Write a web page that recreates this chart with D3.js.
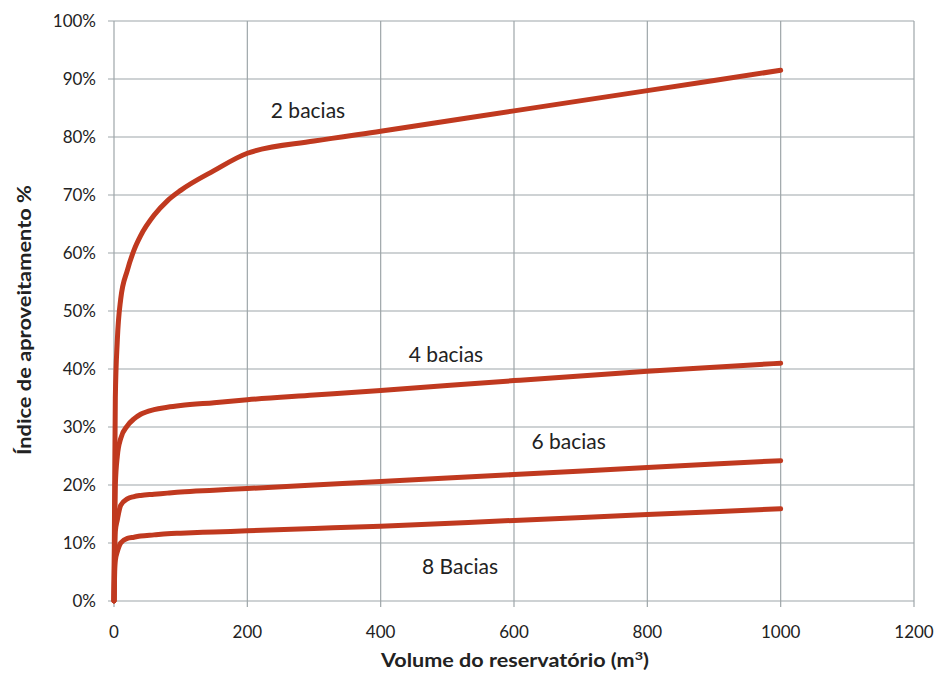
<!DOCTYPE html>
<html><head><meta charset="utf-8">
<script src="https://cdn.jsdelivr.net/npm/d3@7"></script>
<style>body{margin:0;background:#fff;} text{font-family:Lato,"Open Sans",sans-serif;}</style>
</head><body><svg id="c" width="943" height="674"></svg>
<script>
const xTicks = [0,200,400,600,800,1000,1200];
const yTicks = [0,0.1,0.2,0.3,0.4,0.5,0.6,0.7,0.8,0.9,1.0];
const volumes = [0,1,2,5,10,20,30,40,60,80,100,150,200,300,400,600,800,1000];
const bacias2 = [0,0.20,0.35,0.45,0.52,0.57,0.605,0.63,0.665,0.69,0.708,0.742,0.772,0.793,0.81,0.845,0.88,0.915];
const bacias4 = [0,0.12,0.20,0.25,0.28,0.302,0.314,0.322,0.33,0.334,0.337,0.342,0.347,0.355,0.363,0.38,0.396,0.41];
const bacias6 = [0,0.08,0.12,0.14,0.165,0.176,0.18,0.182,0.184,0.186,0.188,0.191,0.194,0.2,0.206,0.218,0.23,0.242];
const bacias8 = [0,0.05,0.07,0.085,0.10,0.108,0.11,0.112,0.114,0.116,0.117,0.119,0.121,0.125,0.129,0.139,0.149,0.159];
const seriesNames = ["2 bacias","4 bacias","6 bacias","8 Bacias"];
const seriesValues = [bacias2,bacias4,bacias6,bacias8];
const labelPos = [[291,0.845],[498,0.425],[682,0.275],[519,0.06]];

const svg = d3.select("#c");
const m = {l:114,t:21,r:914,b:601};
const x = d3.scaleLinear().domain([0,1200]).range([m.l,m.r]);
const y = d3.scaleLinear().domain([0,1]).range([m.b,m.t]);
const grid = "#9ea6a9";

svg.append("g").selectAll("line").data(yTicks).join("line")
  .attr("x1",m.l-6).attr("x2",m.r).attr("y1",d=>y(d)).attr("y2",d=>y(d))
  .attr("stroke",grid).attr("stroke-width",1.2);
svg.append("g").selectAll("line").data(xTicks).join("line")
  .attr("x1",d=>x(d)).attr("x2",d=>x(d)).attr("y1",m.t).attr("y2",m.b+6)
  .attr("stroke",grid).attr("stroke-width",1.2);

svg.append("g").selectAll("text").data(yTicks).join("text")
  .attr("x",m.l-18).attr("y",d=>y(d)).attr("dy","0.35em").attr("text-anchor","end")
  .attr("font-size",17).attr("fill","#222").text(d=>d3.format(".0%")(d));
svg.append("g").selectAll("text").data(xTicks).join("text")
  .attr("x",d=>x(d)).attr("y",m.b+37).attr("text-anchor","middle")
  .attr("font-size",17).attr("fill","#222").text(d=>d);

const line = d3.line().x((d,i)=>x(volumes[i])).y(d=>y(d)).curve(d3.curveMonotoneX);
svg.append("g").selectAll("path").data(seriesValues).join("path")
  .attr("d",line).attr("fill","none").attr("stroke","#c0391f").attr("stroke-width",5)
  .attr("stroke-linecap","round").attr("stroke-linejoin","round");

svg.append("g").selectAll("text").data(seriesNames).join("text")
  .attr("x",(d,i)=>x(labelPos[i][0])).attr("y",(d,i)=>y(labelPos[i][1])).attr("dy","0.35em")
  .attr("text-anchor","middle").attr("font-size",21).attr("fill","#222").text(d=>d);

svg.append("text").attr("x",515).attr("y",667).attr("text-anchor","middle")
  .attr("font-size",18).attr("font-weight","bold").attr("fill","#222")
  .attr("textLength",268).attr("lengthAdjust","spacingAndGlyphs")
  .html('Volume do reservatório (m<tspan baseline-shift="super" font-size="12">3</tspan>)');
svg.append("text").attr("transform","translate(31,320) rotate(-90)").attr("text-anchor","middle")
  .attr("font-size",18).attr("font-weight","bold").attr("fill","#222")
  .attr("textLength",270).attr("lengthAdjust","spacingAndGlyphs")
  .text("Índice de aproveitamento %");
</script></body></html>
